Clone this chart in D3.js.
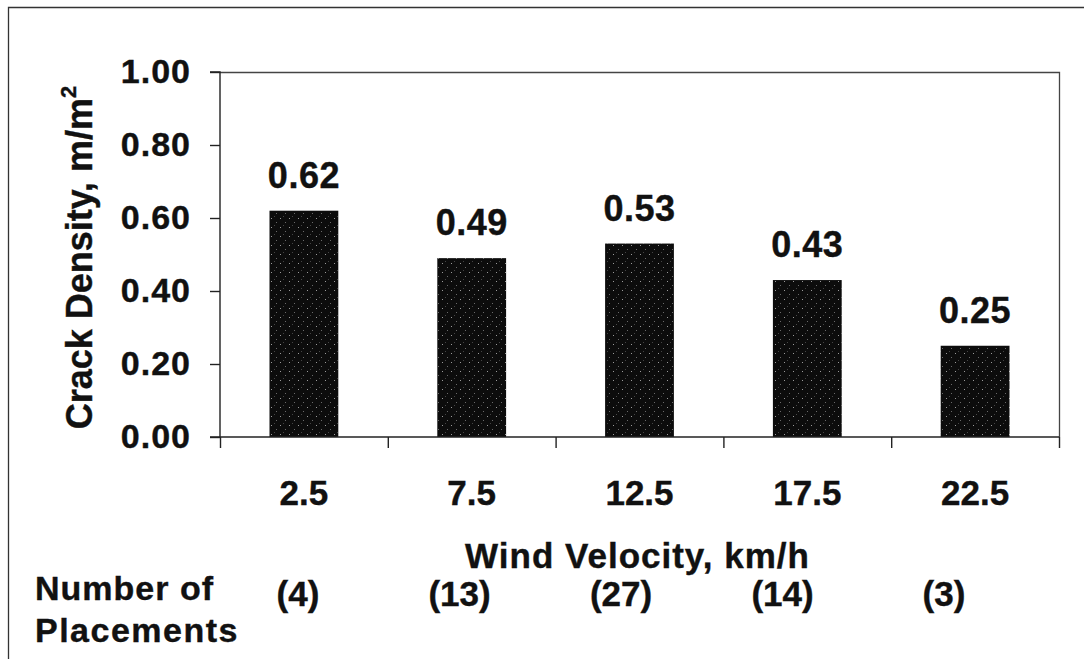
<!DOCTYPE html>
<html>
<head>
<meta charset="utf-8">
<script src="https://cdn.jsdelivr.net/npm/d3@7"></script>
<style>
  body { margin: 0; background: #fff; }
  svg text { font-family: "Liberation Sans", Arial, sans-serif; font-weight: bold; fill: #111; stroke: #111; stroke-width: 0.4px; }
</style>
</head>
<body>
<div id="chart"></div>
<script>
const categories = ["2.5", "7.5", "12.5", "17.5", "22.5"];
const density = [0.62, 0.49, 0.53, 0.43, 0.25];
const placements = ["(4)", "(13)", "(27)", "(14)", "(3)"];
const yTicks = [0, 0.2, 0.4, 0.6, 0.8, 1.0];

const W = 1084, H = 659;
const plot = { left: 220, right: 1059, top: 72, bottom: 437 };

const svg = d3.select("#chart").append("svg")
  .attr("width", W)
  .attr("height", H);

svg.append("rect").attr("width", W).attr("height", H).attr("fill", "#fff");

// stipple texture for bars
const defs = svg.append("defs");
const pat = defs.append("pattern")
  .attr("id", "stipple")
  .attr("patternUnits", "userSpaceOnUse")
  .attr("width", 9).attr("height", 9);
pat.append("rect").attr("width", 9).attr("height", 9).attr("fill", "#0c0c0c");
pat.append("rect").attr("x", 1).attr("y", 2).attr("width", 1).attr("height", 1).attr("fill", "#9a9a9a");
pat.append("rect").attr("x", 6).attr("y", 6).attr("width", 1).attr("height", 1).attr("fill", "#6a6a6a");
pat.append("rect").attr("x", 4).attr("y", 0).attr("width", 1).attr("height", 1).attr("fill", "#444");

// outer frame (top and left only)
svg.append("path")
  .attr("d", `M8.5,${H} V7.5 H${W}`)
  .attr("fill", "none")
  .attr("stroke", "#333")
  .attr("stroke-width", 1.3);

const x = d3.scaleBand()
  .domain(categories)
  .range([plot.left, plot.right])
  .paddingInner(0.59)
  .paddingOuter(0.295);

const y = d3.scaleLinear()
  .domain([0, 1])
  .range([plot.bottom, plot.top]);

const xEdges = d3.scaleLinear()
  .domain([0, categories.length])
  .range([plot.left, plot.right]);

const countX = d3.scalePoint()
  .domain(categories)
  .range([298, 944]);

// plot border top and right
svg.append("path")
  .attr("d", `M${plot.left},${plot.top + 0.5} H${plot.right + 0.5} V${plot.bottom}`)
  .attr("fill", "none")
  .attr("stroke", "#444")
  .attr("stroke-width", 1.3);

// bars
svg.selectAll(".bar")
  .data(density)
  .join("rect")
  .attr("class", "bar")
  .attr("x", (d, i) => x(categories[i]))
  .attr("y", d => y(d))
  .attr("width", x.bandwidth())
  .attr("height", d => y(0) - y(d))
  .attr("fill", "url(#stipple)");

// value labels
svg.selectAll(".val")
  .data(density)
  .join("text")
  .attr("class", "val")
  .attr("x", (d, i) => x(categories[i]) + x.bandwidth() / 2)
  .attr("y", d => y(d) - 23)
  .attr("text-anchor", "middle")
  .attr("font-size", 36)
  .attr("letter-spacing", 0.5)
  .text(d => d.toFixed(2));

// y axis
const yAxis = svg.append("g")
  .attr("transform", `translate(${plot.left},0)`)
  .call(d3.axisLeft(y)
    .tickValues(yTicks)
    .tickFormat(d3.format(".2f"))
    .tickSize(10)
    .tickPadding(19));
yAxis.select(".domain").attr("stroke", "#222").attr("stroke-width", 1.4)
  .attr("d", `M-10,${plot.bottom}H0V${plot.top}H-10`);
yAxis.selectAll(".tick line").attr("stroke", "#222").attr("stroke-width", 1.4);
yAxis.selectAll(".tick text")
  .attr("font-size", 34)
  .attr("letter-spacing", 1)
  .attr("font-family", null)
  .attr("fill", "#111");

// x axis: ticks at category boundaries
const xAxis = svg.append("g")
  .attr("transform", `translate(0,${plot.bottom})`)
  .call(d3.axisBottom(xEdges)
    .tickValues(d3.range(categories.length + 1))
    .tickSize(11)
    .tickFormat(""));
xAxis.select(".domain").attr("stroke", "#222").attr("stroke-width", 1.4)
  .attr("d", `M${plot.left},0H${plot.right}`);
xAxis.selectAll(".tick line").attr("stroke", "#222").attr("stroke-width", 1.4);

// category labels
svg.selectAll(".cat")
  .data(categories)
  .join("text")
  .attr("class", "cat")
  .attr("x", d => x(d) + x.bandwidth() / 2)
  .attr("y", 505)
  .attr("text-anchor", "middle")
  .attr("font-size", 35)
  .text(d => d);

// x title
svg.append("text")
  .attr("x", (plot.left + plot.right) / 2 - 2)
  .attr("y", 568)
  .attr("text-anchor", "middle")
  .attr("font-size", 35)
  .attr("letter-spacing", 1)
  .text("Wind Velocity, km/h");

// y title
const yTitle = svg.append("text")
  .attr("transform", `translate(92,${(plot.top + plot.bottom) / 2 + 3}) rotate(-90)`)
  .attr("text-anchor", "middle")
  .attr("font-size", 36);
yTitle.append("tspan").text("Crack Density, m/m");
yTitle.append("tspan").attr("font-size", 22).attr("dy", -16).text("2");

// placements
svg.append("text")
  .attr("x", 35)
  .attr("y", 600)
  .attr("font-size", 34)
  .attr("letter-spacing", 1)
  .text("Number of");
svg.append("text")
  .attr("x", 35)
  .attr("y", 642)
  .attr("font-size", 34)
  .attr("letter-spacing", 1.5)
  .text("Placements");

svg.selectAll(".cnt")
  .data(placements)
  .join("text")
  .attr("class", "cnt")
  .attr("x", (d, i) => countX(categories[i]))
  .attr("y", 606)
  .attr("text-anchor", "middle")
  .attr("font-size", 35)
  .text(d => d);
</script>
</body>
</html>
